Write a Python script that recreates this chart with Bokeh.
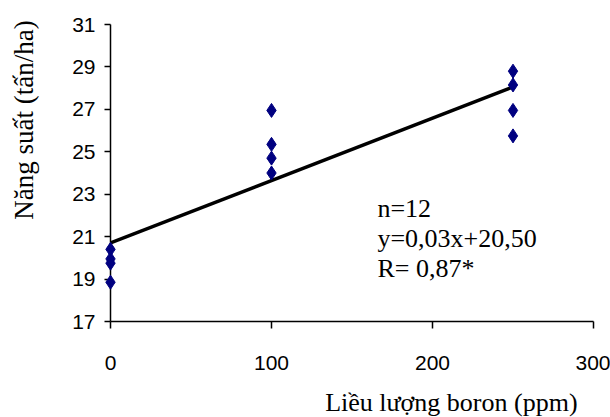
import math
import numpy as np
from bokeh.plotting import figure
from bokeh.models import Range1d, FixedTicker
from bokeh.core.properties import value
from bokeh.embed import file_html
from bokeh.resources import INLINE

# Data
boron_ppm = [0, 0, 0, 0, 100, 100, 100, 100, 250, 250, 250, 250]
yield_t_ha = [20.4, 19.95, 19.75, 18.85, 26.95, 25.35, 24.7, 24.0, 28.8, 28.15, 26.95, 25.75]
x_ticks = [0, 100, 200, 300]
y_ticks = [17, 19, 21, 23, 25, 27, 29, 31]
stats_lines = ["n=12", "y=0,03x+20,50", "R= 0,87*"]
x_title = "Liều lượng boron (ppm)"
y_title = "Năng suất (tấn/ha)"

# Linear trend from the data
slope, intercept = np.polyfit(boron_ppm, yield_t_ha, 1)
trend_x = [0, 250]
trend_y = [intercept + slope * v for v in trend_x]

p = figure(width=610, height=417, output_backend="svg", toolbar_location=None,
           x_range=Range1d(0, 300), y_range=Range1d(17, 31),
           min_border_left=110, min_border_right=17, min_border_top=24, min_border_bottom=96)
p.outline_line_color = None
p.grid.grid_line_color = None
p.background_fill_color = "white"
p.border_fill_color = "white"

for ax in (p.xaxis[0], p.yaxis[0]):
    ax.axis_line_color = "black"
    ax.axis_line_width = 1.5
    ax.major_tick_line_color = "black"
    ax.major_tick_line_width = 1.5
    ax.minor_tick_line_color = None
    ax.major_tick_in = 0
    ax.major_label_text_font = "Liberation Sans"
    ax.major_label_text_font_size = "21px"
    ax.major_label_text_color = "black"

p.xaxis[0].ticker = FixedTicker(ticks=x_ticks)
p.yaxis[0].ticker = FixedTicker(ticks=y_ticks)
p.xaxis[0].major_tick_out = 7
p.xaxis[0].major_label_standoff = 27
p.yaxis[0].major_tick_out = 6
p.yaxis[0].major_label_standoff = 9

p.line(trend_x, trend_y, line_color="black", line_width=3.5)
r = p.scatter(boron_ppm, yield_t_ha, marker="diamond", size=14,
              fill_color="#000080", line_color="#000080")
r.level = "overlay"

# Regression statistics block
stat_y = [22.317 - i * 1.414 for i in range(len(stats_lines))]
p.text(x=[165.8] * len(stats_lines), y=stat_y, text=stats_lines,
       text_align="left", text_baseline="middle",
       text_font=value("Liberation Serif"), text_font_size="26px", text_color="black")

# Axis titles drawn as overlay text glyphs just outside the frame
xt = p.text(x=[290.1], y=[13.2], text=[x_title], text_align="right",
            text_baseline="middle", text_font=value("Liberation Serif"),
            text_font_size="26px", text_color="black")
yt = p.text(x=[-54.0], y=[31.2], text=[y_title], angle=math.pi / 2,
            text_align="right", text_baseline="middle",
            text_font=value("Liberation Serif"), text_font_size="27px", text_color="black")
xt.level = "overlay"
yt.level = "overlay"

open("out.html", "w").write(file_html(p, INLINE))
